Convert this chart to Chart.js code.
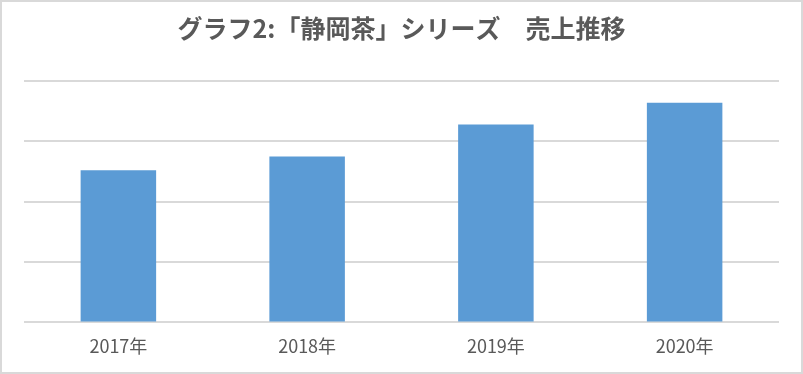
<!DOCTYPE html>
<html>
<head>
<meta charset="utf-8">
<script src="https://cdn.jsdelivr.net/npm/chart.js@4"></script>
<style>
  body { margin: 0; background: #fff; }
  #wrap { width: 803px; height: 374px; }
</style>
</head>
<body>
<div id="wrap"><canvas id="salesChart" width="803" height="374"></canvas></div>
<script>
// chart data
const years = ['2017年', '2018年', '2019年', '2020年'];
const sales = [252, 275, 328, 364];
const chartTitle = 'グラフ2:「静岡茶」シリーズ　売上推移';

// light gray frame around the whole chart
const framePlugin = {
    id: 'frame',
    afterDraw(chart) {
        const ctx = chart.ctx;
        ctx.save();
        ctx.strokeStyle = '#d9d9d9';
        ctx.lineWidth = 2;
        ctx.strokeRect(1, 1, chart.width - 2, chart.height - 2);
        ctx.restore();
    }
};

const ctx = document.getElementById('salesChart');
new Chart(ctx, {
    type: 'bar',
    data: {
        labels: years,
        datasets: [{
            data: sales,
            backgroundColor: '#5b9bd5',
            categoryPercentage: 1,
            barPercentage: 0.4
        }]
    },
    options: {
        responsive: false,
        animation: false,
        layout: {
            padding: { left: 24, right: 24, bottom: 4 }
        },
        plugins: {
            legend: { display: false },
            tooltip: { enabled: false },
            title: {
                display: true,
                text: chartTitle,
                color: '#595959',
                font: { family: '"Noto Sans CJK JP", sans-serif', size: 25, weight: 'bold', lineHeight: 1.2 },
                padding: { top: 13, bottom: 38 }
            }
        },
        scales: {
            x: {
                grid: { display: false, drawTicks: false },
                border: { display: false },
                ticks: {
                    color: '#595959',
                    padding: 13,
                    font: { family: '"Noto Sans CJK JP", sans-serif', size: 18, lineHeight: 1.2 }
                }
            },
            y: {
                min: 0,
                max: 400,
                ticks: { display: false, stepSize: 100 },
                grid: { color: '#d9d9d9', lineWidth: 2, drawTicks: false },
                border: { display: false }
            }
        }
    },
    plugins: [framePlugin]
});
</script>
</body>
</html>
